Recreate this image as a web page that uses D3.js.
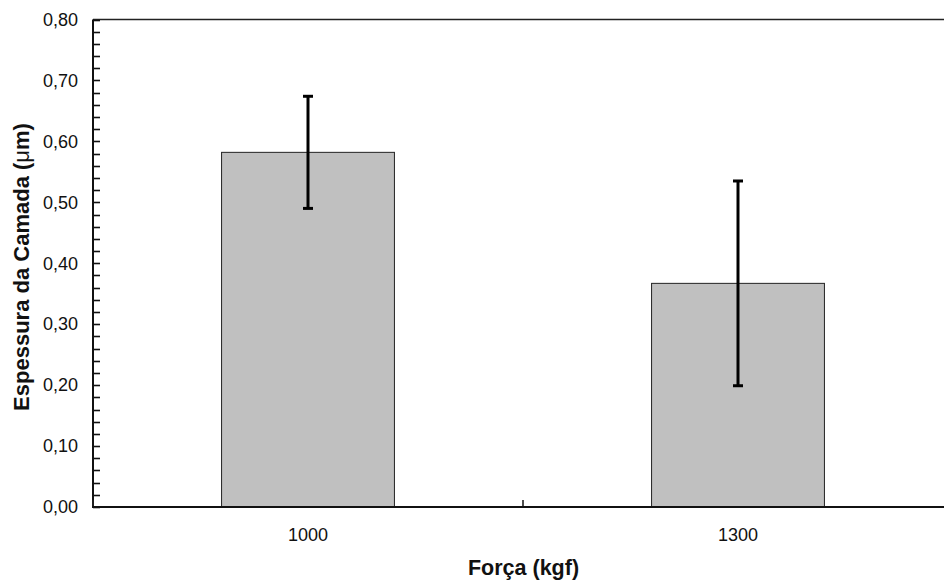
<!DOCTYPE html>
<html>
<head>
<meta charset="utf-8">
<script src="https://cdn.jsdelivr.net/npm/d3@7"></script>
<style>
  body { margin: 0; background: #fff; }
  text { font-family: "Liberation Sans", Arial, sans-serif; }
</style>
</head>
<body>
<svg id="chart" width="944" height="584"></svg>
<script>
// ----- 数据 -----
const categories = ["1000", "1300"];
const means = [0.582, 0.367];
const errors = [0.092, 0.168];
const yMajorTicks = [0, 0.1, 0.2, 0.3, 0.4, 0.5, 0.6, 0.7, 0.8];
const yMinorTicks = d3.range(0, 0.8001, 0.02);

const xTitle = "Força (kgf)";
const yTitle = "Espessura da Camada (";

// ----- 布局 -----
const svg = d3.select("#chart");
const plotLeft = 93, plotRight = 953, plotTop = 19.5, plotBottom = 507;

const x = d3.scaleBand().domain(categories).range([plotLeft, plotRight]).paddingInner(0).paddingOuter(0);
const y = d3.scaleLinear().domain([0, 0.8]).range([plotBottom, plotTop]);
const barW = x.bandwidth() * 0.402;

// 柱子
svg.append("g")
  .selectAll("rect")
  .data(categories)
  .join("rect")
  .attr("x", d => x(d) + x.bandwidth() / 2 - barW / 2)
  .attr("y", (d, i) => y(means[i]))
  .attr("width", barW)
  .attr("height", (d, i) => y(0) - y(means[i]))
  .attr("fill", "#c0c0c0")
  .attr("stroke", "#222")
  .attr("stroke-width", 1);

// 误差线
const eg = svg.append("g").attr("stroke", "#000").attr("stroke-width", 3);
categories.forEach((c, i) => {
  const cx = x(c) + x.bandwidth() / 2;
  const y1 = y(means[i] + errors[i]), y2 = y(means[i] - errors[i]);
  eg.append("line").attr("x1", cx).attr("x2", cx).attr("y1", y1).attr("y2", y2);
  eg.append("line").attr("x1", cx - 5).attr("x2", cx + 5).attr("y1", y1).attr("y2", y1);
  eg.append("line").attr("x1", cx - 5).attr("x2", cx + 5).attr("y1", y2).attr("y2", y2);
});

// 顶部边框
svg.append("line")
  .attr("x1", plotLeft).attr("x2", plotRight).attr("y1", plotTop).attr("y2", plotTop)
  .attr("stroke", "#222").attr("stroke-width", 1.5);

// Y 轴（内向刻度，主刻度和次刻度）
svg.append("g")
  .selectAll("line")
  .data(yMinorTicks)
  .join("line")
  .attr("x1", plotLeft).attr("x2", plotLeft + 7)
  .attr("y1", d => Math.round(y(d)) + 0.5).attr("y2", d => Math.round(y(d)) + 0.5)
  .attr("stroke", "#111").attr("stroke-width", 1.6);
svg.append("g")
  .selectAll("text")
  .data(yMajorTicks)
  .join("text")
  .attr("x", 78)
  .attr("y", d => y(d))
  .attr("dy", "0.35em")
  .attr("text-anchor", "end")
  .style("font-size", "18px")
  .attr("fill", "#111")
  .text(d => d3.format(".2f")(d).replace(".", ","));
svg.append("line")
  .attr("x1", plotLeft).attr("x2", plotLeft).attr("y1", plotTop).attr("y2", plotBottom + 1)
  .attr("stroke", "#111").attr("stroke-width", 2);

// X 轴
svg.append("g")
  .selectAll("line")
  .data([plotLeft, x("1300")])
  .join("line")
  .attr("x1", d => d).attr("x2", d => d)
  .attr("y1", plotBottom).attr("y2", plotBottom - 7)
  .attr("stroke", "#222").attr("stroke-width", 1.6);
svg.append("line")
  .attr("x1", plotLeft - 1).attr("x2", plotRight).attr("y1", plotBottom).attr("y2", plotBottom)
  .attr("stroke", "#111").attr("stroke-width", 2);
svg.append("g")
  .selectAll("text")
  .data(categories)
  .join("text")
  .attr("x", d => x(d) + x.bandwidth() / 2)
  .attr("y", 541)
  .attr("text-anchor", "middle")
  .style("font-size", "18px")
  .attr("fill", "#111")
  .text(d => d);

// 轴标题
svg.append("text")
  .attr("x", 523.5).attr("y", 575)
  .attr("text-anchor", "middle")
  .style("font-size", "21.5px").style("font-weight", "bold")
  .attr("fill", "#111")
  .text(xTitle);

const yt = svg.append("text")
  .attr("transform", "translate(29,267) rotate(-90)")
  .attr("text-anchor", "middle")
  .style("font-size", "22px").style("font-weight", "bold")
  .attr("fill", "#111");
yt.append("tspan").text(yTitle);
yt.append("tspan").style("font-weight", "normal").text("μ");
yt.append("tspan").text("m)");
</script>
</body>
</html>
